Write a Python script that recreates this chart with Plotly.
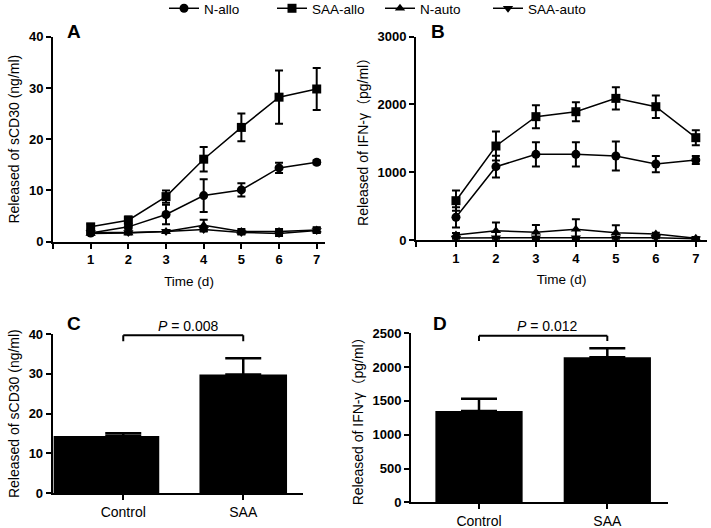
import plotly.graph_objects as go

# ---------------- data ----------------
days = [1, 2, 3, 4, 5, 6, 7]

# Panel A: sCD30 (ng/ml)
a_n_allo = [1.7, 2.9, 5.3, 9.0, 10.1, 14.4, 15.5]
a_n_allo_err = [0.3, 0.4, 1.9, 3.2, 1.3, 1.0, 0.4]
a_saa_allo = [2.9, 4.2, 8.8, 16.1, 22.3, 28.2, 29.8]
a_saa_allo_err = [0.5, 0.7, 1.2, 2.4, 2.7, 5.2, 4.1]
a_n_auto = [1.6, 1.7, 2.0, 3.2, 2.0, 2.0, 2.3]
a_n_auto_err = [0.2, 0.3, 0.3, 1.1, 0.5, 0.5, 0.5]
a_saa_auto = [1.8, 1.8, 2.0, 2.4, 1.8, 1.6, 2.2]
a_saa_auto_err = [0.2, 0.2, 0.3, 0.4, 0.4, 0.5, 0.5]

# Panel B: IFN-gamma (pg/ml)
b_n_allo = [335, 1082, 1264, 1264, 1239, 1121, 1180]
b_n_allo_err = [150, 160, 180, 180, 215, 120, 60]
b_saa_allo = [580, 1387, 1820, 1893, 2090, 1967, 1510]
b_saa_allo_err = [150, 215, 170, 140, 165, 165, 110]
b_n_auto = [74, 138, 113, 157, 108, 88, 25]
b_n_auto_err = [30, 120, 110, 150, 110, 20, 20]
b_saa_auto = [30, 35, 35, 35, 35, 35, 20]
b_saa_auto_err = [10, 10, 10, 10, 10, 10, 10]

# Panels C and D: bar charts
groups = ["Control", "SAA"]
c_vals = [14.4, 29.8]
c_err = [0.7, 4.1]
d_vals = [1350, 2145]
d_err = [180, 135]
c_p_text = "<i>P</i> = 0.008"
d_p_text = "<i>P</i> = 0.012"
c_bracket = [39.7, 38.2]   # bracket top / leg end (data units)
d_bracket = [2464, 2386]

series_names = ["N-allo", "SAA-allo", "N-auto", "SAA-auto"]
symbols = ["circle", "square", "triangle-up", "triangle-down"]

W, H = 711, 528
FONT = "Liberation Sans, Arial, Noto Sans CJK SC, sans-serif"

def px(x):
    return x / W

def py(y):
    return 1 - y / H

fig = go.Figure()

a_series = [(a_n_allo, a_n_allo_err), (a_saa_allo, a_saa_allo_err),
            (a_n_auto, a_n_auto_err), (a_saa_auto, a_saa_auto_err)]
b_series = [(b_n_allo, b_n_allo_err), (b_saa_allo, b_saa_allo_err),
            (b_n_auto, b_n_auto_err), (b_saa_auto, b_saa_auto_err)]

for i, (vals, err) in enumerate(a_series):
    fig.add_trace(go.Scatter(
        x=days, y=vals, name=series_names[i], mode="lines+markers",
        line=dict(color="black", width=1.5),
        marker=dict(symbol=symbols[i], size=9, color="black"),
        error_y=dict(type="data", array=err, color="black", thickness=2, width=4),
        xaxis="x", yaxis="y", cliponaxis=False, legendgroup=series_names[i],
        showlegend=True))

for i, (vals, err) in enumerate(b_series):
    fig.add_trace(go.Scatter(
        x=days, y=vals, name=series_names[i], mode="lines+markers",
        line=dict(color="black", width=1.5),
        marker=dict(symbol=symbols[i], size=9, color="black"),
        error_y=dict(type="data", array=err, color="black", thickness=2, width=4),
        xaxis="x2", yaxis="y2", cliponaxis=False, legendgroup=series_names[i],
        showlegend=False))

# Panel C bars
fig.add_trace(go.Bar(
    x=groups, y=c_vals, marker=dict(color="black", line=dict(width=0)),
    width=[0.88, 0.73], offset=[-0.58, -0.365],
    xaxis="x3", yaxis="y3", showlegend=False))
fig.add_trace(go.Scatter(
    x=groups, y=c_vals, mode="markers", marker=dict(size=1, opacity=0),
    error_y=dict(type="data", symmetric=False, array=c_err, arrayminus=[0, 0],
                 color="black", thickness=2.5, width=18),
    xaxis="x3", yaxis="y3", showlegend=False, hoverinfo="skip"))

# Panel D bars
fig.add_trace(go.Bar(
    x=groups, y=d_vals, marker=dict(color="black", line=dict(width=0)),
    width=0.68,
    error_y=dict(type="data", symmetric=False, array=d_err, arrayminus=[0, 0],
                 color="black", thickness=2.5, width=18),
    xaxis="x4", yaxis="y4", showlegend=False))

tickfont = dict(family=FONT, size=13, color="black", weight="bold")
xtitlefont = dict(family=FONT, size=13.5, color="black")
ytitlefont = dict(family=FONT, size=14, color="black")
catfont = dict(family=FONT, size=14, color="black")
common = dict(showgrid=False, zeroline=False, showline=True, linecolor="black",
              linewidth=2, ticks="outside", ticklen=5, tickwidth=2,
              tickcolor="black", tickfont=tickfont)

fig.update_layout(
    width=W, height=H,
    margin=dict(l=0, r=0, t=0, b=0, autoexpand=False),
    paper_bgcolor="white", plot_bgcolor="white",
    font=dict(family=FONT, color="black"),
    showlegend=True,
    legend=dict(orientation="h", x=px(164), xanchor="left", y=py(-7), yanchor="top",
                entrywidth=63,
                font=dict(family=FONT, size=13.5, color="black"),
                bgcolor="rgba(0,0,0,0)", itemclick=False),
    xaxis=dict(domain=[px(53), px(325)], range=[0, 7.22], anchor="y",
               tickvals=[0, 1, 2, 3, 4, 5, 6, 7],
               ticktext=["", "1", "2", "3", "4", "5", "6", "7"],
               title=dict(text="Time (d)", font=xtitlefont, standoff=10), **common),
    yaxis=dict(domain=[py(241.7), py(36.7)], range=[0, 40], anchor="x",
               tickvals=[0, 10, 20, 30, 40],
               title=dict(text="Released of sCD30 (ng/ml)", font=ytitlefont, standoff=6),
               **common),
    xaxis2=dict(domain=[px(416), px(707)], range=[0, 7.28], anchor="y2",
                tickvals=[0, 1, 2, 3, 4, 5, 6, 7],
                ticktext=["", "1", "2", "3", "4", "5", "6", "7"],
                title=dict(text="Time (d)", font=xtitlefont, standoff=10), **common),
    yaxis2=dict(domain=[py(240), py(36.7)], range=[0, 3000], anchor="x2",
                tickvals=[0, 1000, 2000, 3000],
                title=dict(text="Released of IFN-γ（pg/ml）", font=ytitlefont, standoff=6),
                **common),
    xaxis3=dict(domain=[px(52.7), px(303)], range=[-0.588, 1.498], anchor="y3",
                type="category", categoryorder="array", categoryarray=groups,
                **{**common, "tickfont": catfont}),
    yaxis3=dict(domain=[py(493.3), py(334)], range=[0, 40], anchor="x3",
                tickvals=[0, 10, 20, 30, 40],
                title=dict(text="Released of sCD30 (ng/ml)", font=ytitlefont, standoff=6),
                **common),
    xaxis4=dict(domain=[px(411), px(668)], range=[-0.53, 1.473], anchor="y4",
                type="category", categoryorder="array", categoryarray=groups,
                **{**common, "tickfont": catfont}),
    yaxis4=dict(domain=[py(502.3), py(333.3)], range=[0, 2500], anchor="x4",
                tickvals=[0, 500, 1000, 1500, 2000, 2500],
                title=dict(text="Released of IFN-γ（pg/ml）", font=ytitlefont, standoff=6),
                **common),
)

# significance brackets
for xr, yr, (top, leg) in [("x3", "y3", c_bracket), ("x4", "y4", d_bracket)]:
    fig.add_shape(type="line", xref=xr, yref=yr, x0=0, x1=1, y0=top, y1=top,
                  line=dict(color="black", width=2))
    fig.add_shape(type="line", xref=xr, yref=yr, x0=0, x1=0, y0=top, y1=leg,
                  line=dict(color="black", width=2))
    fig.add_shape(type="line", xref=xr, yref=yr, x0=1, x1=1, y0=top, y1=leg,
                  line=dict(color="black", width=2))

annos = [
    dict(text="A", x=px(74), y=py(31)), dict(text="B", x=px(438), y=py(31)),
    dict(text="C", x=px(74), y=py(323)), dict(text="D", x=px(440), y=py(323)),
]
for a in annos:
    fig.add_annotation(xref="paper", yref="paper", showarrow=False,
                       xanchor="center", yanchor="middle",
                       font=dict(family=FONT, size=19, color="black", weight="bold"), **a)

fig.add_annotation(xref="paper", yref="paper", x=px(188), y=py(326), text=c_p_text,
                   showarrow=False, xanchor="center", yanchor="middle",
                   font=dict(family=FONT, size=14, color="black"))
fig.add_annotation(xref="paper", yref="paper", x=px(547), y=py(326), text=d_p_text,
                   showarrow=False, xanchor="center", yanchor="middle",
                   font=dict(family=FONT, size=14, color="black"))

fig.write_html("out.html", config={"displayModeBar": False},
               post_script="document.body.style.margin='0';document.body.style.overflow='hidden';")
